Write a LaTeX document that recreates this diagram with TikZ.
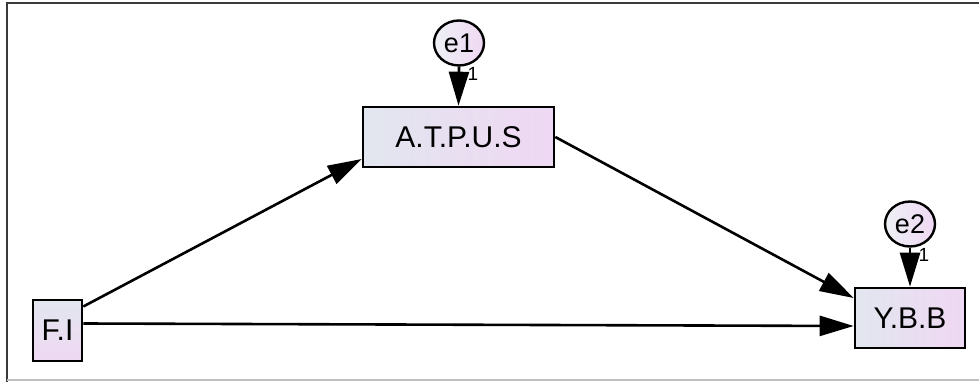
\documentclass[tikz,border=0pt]{standalone}
\usepackage{fontspec}
\setmainfont{Liberation Sans}
\usetikzlibrary{arrows.meta,shapes.geometric}
\definecolor{boxL}{HTML}{E2E6EF}
\definecolor{boxR}{HTML}{EFD8F3}
\definecolor{frameC}{HTML}{3A3A3A}
\begin{document}
\begin{tikzpicture}[x=1pt,y=-1pt,
  varbox/.style={draw=black, line width=2.6pt, left color=boxL, right color=boxR,
    inner sep=0pt, font=\fontsize{30}{30}\selectfont},
  errnode/.style={draw=black, line width=2.4pt, ellipse, left color=boxL!60!white, right color=boxR,
    inner sep=0pt, minimum width=50pt, minimum height=45pt, font=\fontsize{27}{27}\selectfont},
  patharrow/.style={line width=2.6pt, -{Triangle[length=34pt,width=20pt]}},
  onelabel/.style={font=\fontsize{19}{19}\selectfont, inner sep=0pt}
]
\useasboundingbox (0,0) rectangle (979,382);
% frame
\draw[frameC, line width=2pt] (7,382) -- (7,3) -- (979,3);
\draw[black!25, line width=1.2pt] (7,380) -- (979,380);

% nodes
\node[varbox, minimum width=191pt, minimum height=60pt] (atpus) at (458.5,137) {A.T.P.U.S};
\node[varbox, minimum width=110pt, minimum height=60pt] (ybb) at (910,318) {Y.B.B};
\node[varbox, minimum width=49pt, minimum height=61pt, top color=boxL, bottom color=boxR] (fi) at (57.5,330.5) {F.I};
\node[errnode] (e1) at (459,43) {e1};
\node[errnode] (e2) at (910,224) {e2};

% error paths
\draw[patharrow] (e1.south) -- (atpus.north);
\draw[patharrow] (e2.south) -- (ybb.north);
\node[onelabel] (one1) at (473,74) {1};
\node[onelabel] (one2) at (924,255) {1};

% structural paths
\draw[patharrow] ([yshift=24pt]fi.east) -- ([yshift=-22pt]atpus.west);
\draw[patharrow] (atpus.east) -- ([yshift=20pt]ybb.west);
\draw[patharrow] ([yshift=7pt]fi.east) -- ([yshift=-8pt]ybb.west);
\end{tikzpicture}
\end{document}
